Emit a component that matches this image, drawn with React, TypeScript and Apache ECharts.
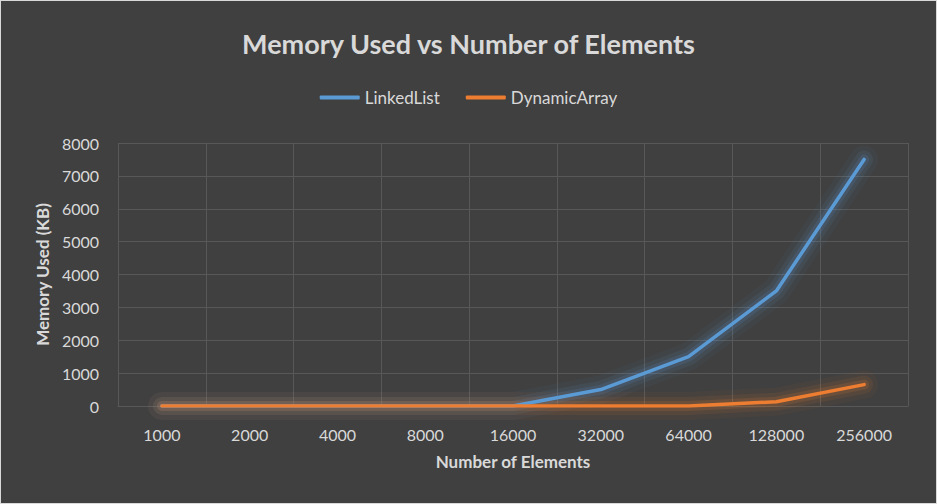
import React, { useEffect, useRef } from "react";
import * as echarts from "echarts";

const categories = ["1000", "2000", "4000", "8000", "16000", "32000", "64000", "128000", "256000"];
const linkedList = [0, 0, 0, 0, 0, 500, 1500, 3500, 7500];
const dynamicArray = [0, 0, 0, 0, 0, 0, 0, 130, 650];
const yTicks = { min: 0, max: 8000, interval: 1000 };

export default function App() {
  const ref = useRef<HTMLDivElement>(null);
  useEffect(() => {
    const chart = echarts.init(ref.current!, null, { renderer: "svg" });
    const font = "Lato, 'Open Sans', sans-serif";
    const txt = "#d9d9d9";
    const blue = "#5b9bd5";
    const orange = "#ed7d31";
    const glow = (name: string, data: number[], color: string, width: number, opacity: number) => ({
      name,
      type: "line",
      data,
      symbol: "none",
      silent: true,
      z: 1,
      lineStyle: { width, color, opacity, cap: "round", join: "round" },
    });
    chart.setOption({
      animation: false,
      backgroundColor: "#404040",
      title: {
        text: "Memory Used vs Number of Elements",
        left: "center",
        top: 24,
        textStyle: { color: txt, fontSize: 27, fontWeight: "bold", fontFamily: font },
      },
      legend: {
        top: 83,
        left: "center",
        itemWidth: 40,
        itemGap: 26,
        icon: "roundRect",
        itemHeight: 4,
        textStyle: { color: txt, fontSize: 17, fontFamily: font },
        data: ["LinkedList", "DynamicArray"],
      },
      grid: { left: 117, right: 28, top: 142, bottom: 97 },
      xAxis: {
        type: "category",
        data: categories,
        boundaryGap: true,
        name: "Number of Elements",
        nameLocation: "middle",
        nameGap: 47,
        nameTextStyle: { color: txt, fontSize: 17, fontWeight: "bold", fontFamily: font },
        axisLine: { show: true, lineStyle: { color: "#585858", width: 1 } },
        axisTick: { show: false },
        axisLabel: { color: txt, fontSize: 16, fontFamily: font, margin: 20 },
        splitLine: { show: true, lineStyle: { color: "#585858", width: 1 } },
      },
      yAxis: {
        type: "value",
        min: yTicks.min,
        max: yTicks.max,
        interval: yTicks.interval,
        name: "Memory Used (KB)",
        nameLocation: "middle",
        nameGap: 62,
        nameTextStyle: { color: txt, fontSize: 17, fontWeight: "bold", fontFamily: font },
        axisLine: { show: false },
        axisTick: { show: false },
        axisLabel: { color: txt, fontSize: 16, fontFamily: font, margin: 19, formatter: (v: number) => String(v) },
        splitLine: { show: true, lineStyle: { color: "#585858", width: 1 } },
      },
      series: [
        glow("LL-glow0", linkedList, blue, 28, 0.05),
        glow("LL-glow1", linkedList, blue, 18, 0.09),
        glow("LL-glow2", linkedList, blue, 10, 0.15),
        glow("DA-glow0", dynamicArray, orange, 28, 0.05),
        glow("DA-glow1", dynamicArray, orange, 18, 0.09),
        glow("DA-glow2", dynamicArray, orange, 10, 0.15),
        {
          name: "LinkedList",
          type: "line",
          data: linkedList,
          symbol: "none",
          color: blue,
          z: 3,
          lineStyle: { width: 3.5, color: blue, cap: "round", join: "round" },
        },
        {
          name: "DynamicArray",
          type: "line",
          data: dynamicArray,
          symbol: "none",
          color: orange,
          z: 3,
          lineStyle: { width: 3.5, color: orange, cap: "round", join: "round" },
        },
      ],
    });
    return () => chart.dispose();
  }, []);
  return (
    <div
      style={{
        position: "fixed",
        left: 0,
        top: 0,
        width: 937,
        height: 504,
        boxSizing: "border-box",
        border: "1px solid #d9d9d9",
        background: "#404040",
      }}
    >
      <div ref={ref} style={{ width: 935, height: 502 }} />
    </div>
  );
}
